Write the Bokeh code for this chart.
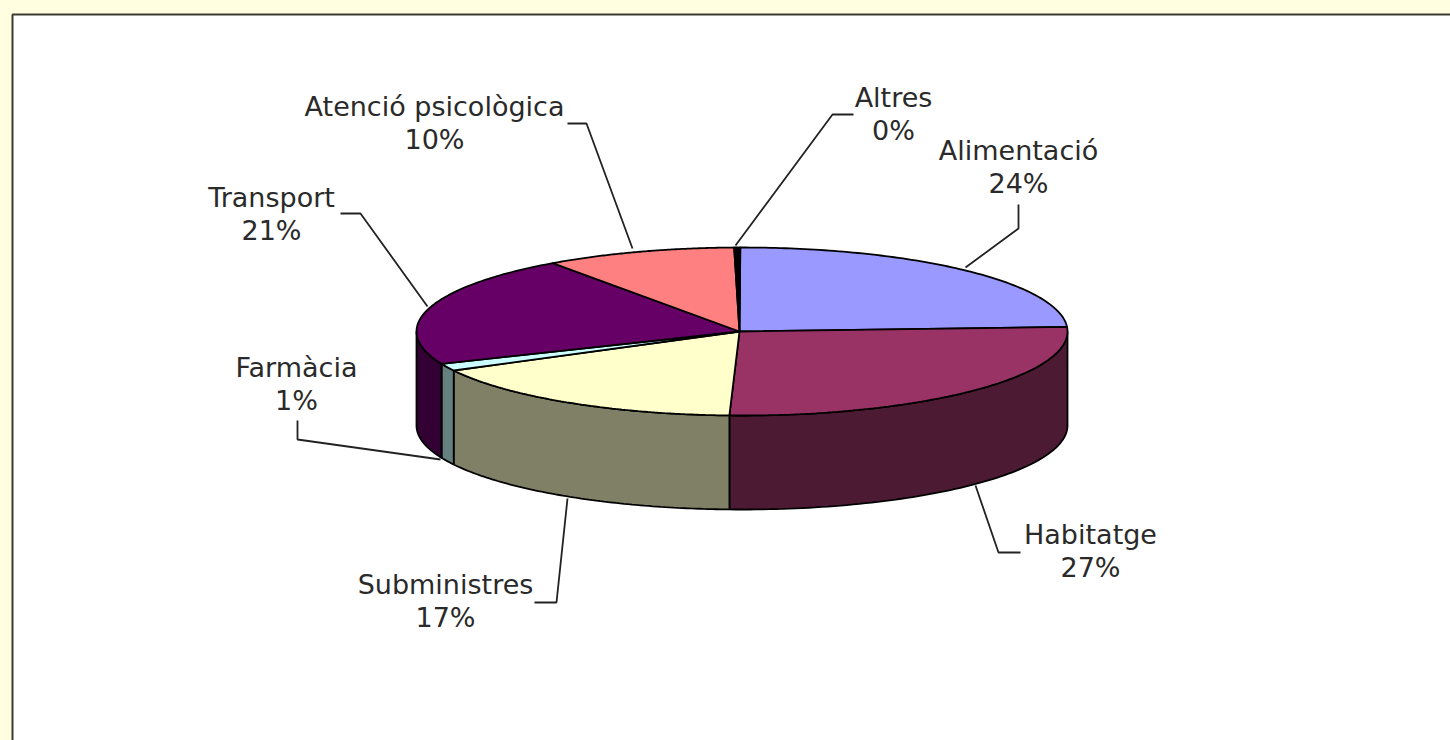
import numpy as np
from bokeh.core.properties import value
from bokeh.embed import file_html
from bokeh.models import BoxAnnotation, Range1d
from bokeh.plotting import figure
from bokeh.resources import INLINE

# Data
categories = ["Alimentació", "Habitatge", "Subministres", "Farmàcia", "Transport", "Atenció psicològica", "Altres"]
percent_labels = ["24%", "27%", "17%", "1%", "21%", "10%", "0%"]
slice_values = [24.2, 26.5, 16.7, 1.4, 21.4, 9.5, 0.3]
top_colors = ["#9999ff", "#993366", "#ffffcc", "#ccffff", "#660066", "#ff8080", "#000000"]
side_colors = ["#4d4d80", "#4d1a33", "#808066", "#668080", "#330033", "#804040", "#000000"]

# Layout, in picture pixels
CX, CY, RX, RY, DEPTH = 741.5, 331.0, 325.5, 84.0, 94.0
APEX_X = 739.0
ROTATION_DEG = -0.3
label_x = [1018, 1090, 445, 296, 271, 434, 893]
label_y = [150, 534, 584, 367, 197, 106, 97]
LINE_GAP = 33
leaders = [
    ([1018, 1018, 965], [204, 228, 267]),
    ([1020, 998, 975], [552, 552, 485]),
    ([534, 556, 567], [602, 602, 498]),
    ([297, 297, 440], [420, 439, 459]),
    ([340, 360, 427], [213, 213, 306]),
    ([567, 586, 632], [123, 123, 248]),
    ([853, 832, 735], [114, 114, 245]),
]

p = figure(width=1450, height=740, x_range=Range1d(0, 1450), y_range=Range1d(740, 0),
           output_backend="svg", toolbar_location=None, min_border=0,
           background_fill_color="#fffee0", border_fill_color="#fffee0", outline_line_color=None)
p.xaxis.visible = False
p.yaxis.visible = False
p.grid.visible = False

p.add_layout(BoxAnnotation(left=12, right=1470, top=14, bottom=760, fill_color="white", fill_alpha=1,
                           line_color="#3a3a30", line_alpha=1, line_width=2, level="underlay"))


def ex(t):
    return CX + RX * np.sin(t)


def ey(t):
    return CY - RY * np.cos(t)


edges = np.radians(np.concatenate([[0], np.cumsum(slice_values)]) * 3.6 + ROTATION_DEG)

# Rim: only the front half of the ellipse is visible
for i in range(len(slice_values)):
    a, b = max(edges[i], np.pi / 2), min(edges[i + 1], 3 * np.pi / 2)
    if b <= a:
        continue
    t = np.linspace(a, b, 80)
    xs = np.concatenate([ex(t), ex(t[::-1])])
    ys = np.concatenate([ey(t), ey(t[::-1]) + DEPTH])
    p.patch(xs, ys, fill_color=side_colors[i], line_color="black", line_width=1.8)

# Top face
for i in range(len(slice_values)):
    t = np.linspace(edges[i], edges[i + 1], 100)
    xs = np.concatenate([[APEX_X], ex(t)])
    ys = np.concatenate([[CY], ey(t)])
    p.patch(xs, ys, fill_color=top_colors[i], line_color="black", line_width=1.8)

for xs, ys in leaders:
    p.line(xs, ys, line_color="#222222", line_width=1.8)

p.text(label_x, label_y, text=categories, text_font=value("DejaVu Sans"), text_font_size="27px",
       text_align="center", text_baseline="middle", text_color="#2a2a2a")
p.text(label_x, [y + LINE_GAP for y in label_y], text=percent_labels, text_font=value("DejaVu Sans"),
       text_font_size="27px", text_align="center", text_baseline="middle", text_color="#2a2a2a")

html = file_html(p, INLINE)
html = html.replace("</head>", "<style>html,body{background:#fffee0;overflow:hidden}</style></head>", 1)
open("out.html", "w").write(html)
